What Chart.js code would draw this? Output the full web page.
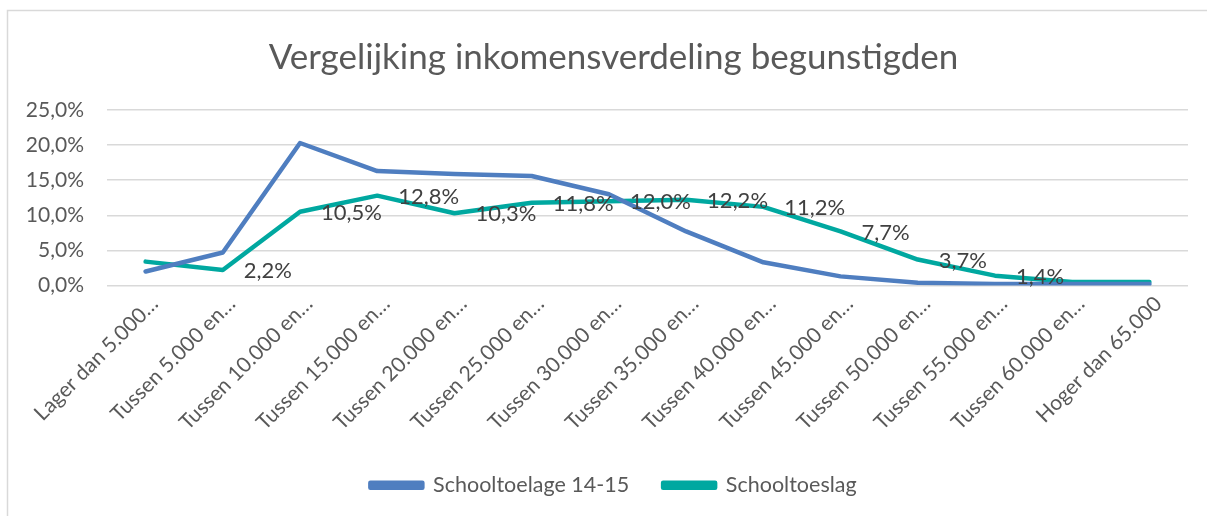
<!DOCTYPE html>
<html>
<head>
<meta charset="utf-8">
<style>
  html, body { margin: 0; padding: 0; background: #ffffff; }
  #wrap { position: relative; width: 1207px; height: 516px; }
</style>
<script src="https://cdn.jsdelivr.net/npm/chart.js@4/dist/chart.umd.min.js"></script>
</head>
<body>
<div id="wrap"><canvas id="c" width="1207" height="516"></canvas></div>
<script>
const titleText = 'Vergelijking inkomensverdeling begunstigden';
const categories = [
  'Lager dan 5.000…', 'Tussen 5.000 en…', 'Tussen 10.000 en…', 'Tussen 15.000 en…',
  'Tussen 20.000 en…', 'Tussen 25.000 en…', 'Tussen 30.000 en…', 'Tussen 35.000 en…',
  'Tussen 40.000 en…', 'Tussen 45.000 en…', 'Tussen 50.000 en…', 'Tussen 55.000 en…',
  'Tussen 60.000 en…', 'Hoger dan 65.000'
];
const seriesNames = ['Schooltoelage 14-15', 'Schooltoeslag'];
const schooltoelage = [2.0, 4.7, 20.3, 16.3, 15.9, 15.6, 13.0, 7.7, 3.3, 1.3, 0.4, 0.2, 0.2, 0.2];
const schooltoeslag = [3.4, 2.2, 10.5, 12.8, 10.3, 11.8, 12.0, 12.2, 11.2, 7.7, 3.7, 1.4, 0.5, 0.5];
const toeslagLabelShown = [false, true, true, true, true, true, true, true, true, true, true, true, false, false];
const yTicks = [0, 5, 10, 15, 20, 25];

const fmt = v => v.toFixed(1).replace('.', ',') + '%';
const FONT = 'Lato, "Open Sans", "Noto Sans", sans-serif';

const frame = {
  id: 'frame',
  beforeDraw(chart) {
    const ctx = chart.ctx;
    ctx.save();
    ctx.fillStyle = '#ffffff';
    ctx.fillRect(0, 0, chart.width, chart.height);
    ctx.strokeStyle = '#d9d9d9';
    ctx.lineWidth = 1.5;
    ctx.beginPath();
    ctx.moveTo(7.5, chart.height);
    ctx.lineTo(7.5, 10.5);
    ctx.lineTo(chart.width, 10.5);
    ctx.stroke();
    ctx.restore();
  }
};

const dataLabels = {
  id: 'dataLabels',
  afterDatasetsDraw(chart) {
    const ctx = chart.ctx;
    const meta = chart.getDatasetMeta(1);
    ctx.save();
    ctx.font = '22px ' + FONT;
    ctx.fillStyle = '#404040';
    ctx.textAlign = 'left';
    ctx.textBaseline = 'middle';
    meta.data.forEach((pt, i) => {
      if (!toeslagLabelShown[i]) return;
      ctx.fillText(fmt(schooltoeslag[i]), pt.x + 21, pt.y + 1);
    });
    ctx.restore();
  }
};

new Chart(document.getElementById('c'), {
  type: 'line',
  data: {
    labels: categories,
    datasets: [
      {
        label: seriesNames[0],
        data: schooltoelage,
        borderColor: '#4F7EC0',
        backgroundColor: '#4F7EC0',
        borderWidth: 4.5,
        pointRadius: 0,
        tension: 0,
        borderJoinStyle: 'round',
        borderCapStyle: 'round'
      },
      {
        label: seriesNames[1],
        data: schooltoeslag,
        borderColor: '#00A8A0',
        backgroundColor: '#00A8A0',
        borderWidth: 4.5,
        pointRadius: 0,
        tension: 0,
        borderJoinStyle: 'round',
        borderCapStyle: 'round'
      }
    ]
  },
  options: {
    responsive: false,
    animation: false,
    devicePixelRatio: 1,
    layout: { padding: { left: 20, right: 0, top: 0, bottom: 10 } },
    plugins: {
      title: {
        display: true,
        text: titleText,
        color: '#595959',
        font: { family: FONT, size: 35, weight: 'normal' },
        padding: { top: 37, bottom: 31 }
      },
      legend: {
        position: 'bottom',
        labels: {
          color: '#595959',
          font: { family: FONT, size: 21.5 },
          boxWidth: 52,
          boxHeight: 5,
          padding: 34
        }
      },
      tooltip: { enabled: false }
    },
    scales: {
      x: {
        offset: true,
        grid: { display: false, drawTicks: false },
        border: { display: false },
        ticks: {
          color: '#595959',
          font: { family: FONT, size: 21 },
          minRotation: 45,
          maxRotation: 45,
          autoSkip: false,
          padding: 6,
          labelOffset: 9
        },
        afterFit(scale) {
          scale.height = 155;
          scale.paddingLeft = 0;
          scale.paddingRight = 19;
        }
      },
      y: {
        min: 0,
        max: 25,
        afterBuildTicks(scale) {
          scale.ticks = yTicks.map(v => ({ value: v }));
        },
        grid: { color: '#d9d9d9', lineWidth: 1.5, drawTicks: false },
        border: { display: false },
        ticks: {
          color: '#595959',
          font: { family: FONT, size: 21 },
          padding: 23,
          callback: v => fmt(v)
        },
        afterFit(scale) {
          scale.width = 87;
        }
      }
    }
  },
  plugins: [frame, dataLabels]
});
</script>
</body>
</html>
